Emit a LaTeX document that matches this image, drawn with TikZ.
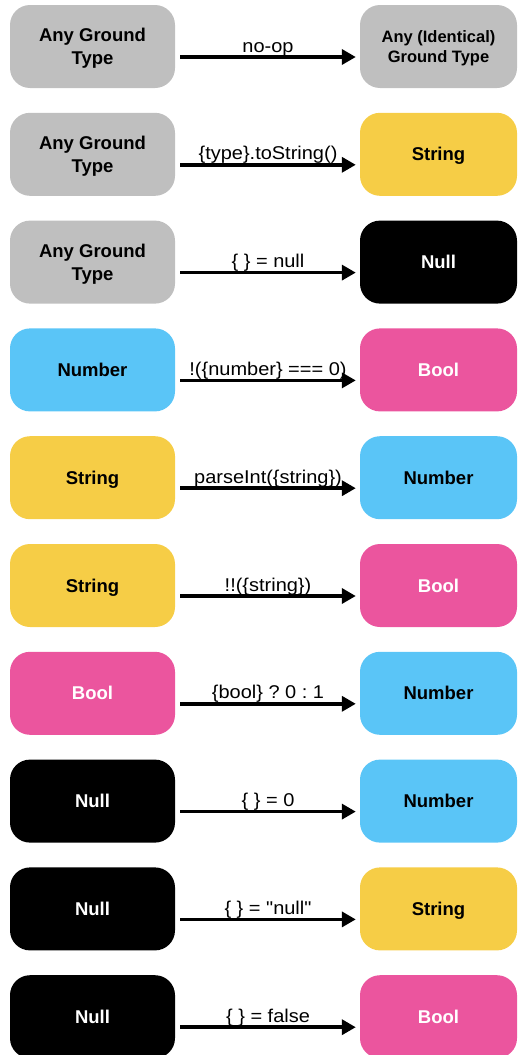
\documentclass[tikz,border=0pt]{standalone}
\usepackage{fontspec}
\setmainfont{Liberation Sans}
\newfontfamily\lblfont{Liberation Sans}[FakeStretch=1.08]
\usetikzlibrary{arrows.meta}
\definecolor{cgray}{HTML}{BFBFBF}
\definecolor{cyellow}{HTML}{F6CD46}
\definecolor{cblue}{HTML}{5AC5F7}
\definecolor{cpink}{HTML}{EB559E}
\tikzset{
  box/.style={rounded corners=20pt, minimum width=164pt, minimum height=83pt, inner sep=0pt, align=center,
    font=\fontsize{18.5}{23}\selectfont\bfseries, text height=13.3pt, text depth=0pt},
  two/.style={text height=36.3pt},
  lbox/.style={box, minimum width=165pt},
  rbox/.style={box, minimum width=157pt},
  gray/.style={fill=cgray, text=black},
  yel/.style={fill=cyellow, text=black},
  blu/.style={fill=cblue, text=black},
  pnk/.style={fill=cpink, text=white},
  blk/.style={fill=black, text=white},
  arr/.style={line width=3.5pt, -{Triangle[length=14pt,width=15pt]}},
  lbl/.style={font=\lblfont\fontsize{18.5}{22}\selectfont\frenchspacing, anchor=base, inner sep=0pt, yshift=5pt}
}
\begin{document}
\begin{tikzpicture}[x=1pt,y=-1pt]
\useasboundingbox (0,0) rectangle (518,1055);
% row 0
\node[lbox,gray,two] (L0) at (92.5,{46.5+107.8*0}) {Any Ground\\Type};
\node[rbox,gray,font=\fontsize{16.5}{20}\selectfont\bfseries,text height=31.9pt,text depth=0pt] (R0) at (438.5,{46.5+107.8*0}) {Any (Identical)\\Ground Type};
% row 1
\node[lbox,gray,two] (L1) at (92.5,{46.5+107.8*1}) {Any Ground\\Type};
\node[rbox,yel] (R1) at (438.5,{46.5+107.8*1}) {String};
% row 2
\node[lbox,gray,two] (L2) at (92.5,{46.5+107.8*2}) {Any Ground\\Type};
\node[rbox,blk] (R2) at (438.5,{46.5+107.8*2}) {Null};
% row 3
\node[lbox,blu] (L3) at (92.5,{46.5+107.8*3}) {Number};
\node[rbox,pnk] (R3) at (438.5,{46.5+107.8*3}) {Bool};
% row 4
\node[lbox,yel] (L4) at (92.5,{46.5+107.8*4}) {String};
\node[rbox,blu] (R4) at (438.5,{46.5+107.8*4}) {Number};
% row 5
\node[lbox,yel] (L5) at (92.5,{46.5+107.8*5}) {String};
\node[rbox,pnk] (R5) at (438.5,{46.5+107.8*5}) {Bool};
% row 6
\node[lbox,pnk] (L6) at (92.5,{46.5+107.8*6}) {Bool};
\node[rbox,blu] (R6) at (438.5,{46.5+107.8*6}) {Number};
% row 7
\node[lbox,blk] (L7) at (92.5,{46.5+107.8*7}) {Null};
\node[rbox,blu] (R7) at (438.5,{46.5+107.8*7}) {Number};
% row 8
\node[lbox,blk] (L8) at (92.5,{46.5+107.8*8}) {Null};
\node[rbox,yel] (R8) at (438.5,{46.5+107.8*8}) {String};
% row 9
\node[lbox,blk] (L9) at (92.5,{46.5+107.8*9}) {Null};
\node[rbox,pnk] (R9) at (438.5,{46.5+107.8*9}) {Bool};
% arrows with labels
\foreach \i/\t in {0/{no-op},
                   1/{\{type\}.toString()},
                   2/{\{ \} = null},
                   3/{!(\{number\} === 0)},
                   4/{parseInt(\{string\})},
                   5/{!!(\{string\})},
                   6/{\{bool\} ? 0 : 1},
                   7/{\{ \} = 0},
                   8/{\{ \} = "null"},
                   9/{\{ \} = false}} {
  \draw[arr] ([xshift=5pt,yshift=-10.5pt]L\i.east) -- node[lbl] (T\i) {\t} ([xshift=-4pt,yshift=-10.5pt]R\i.west);
}
\end{tikzpicture}
\end{document}
